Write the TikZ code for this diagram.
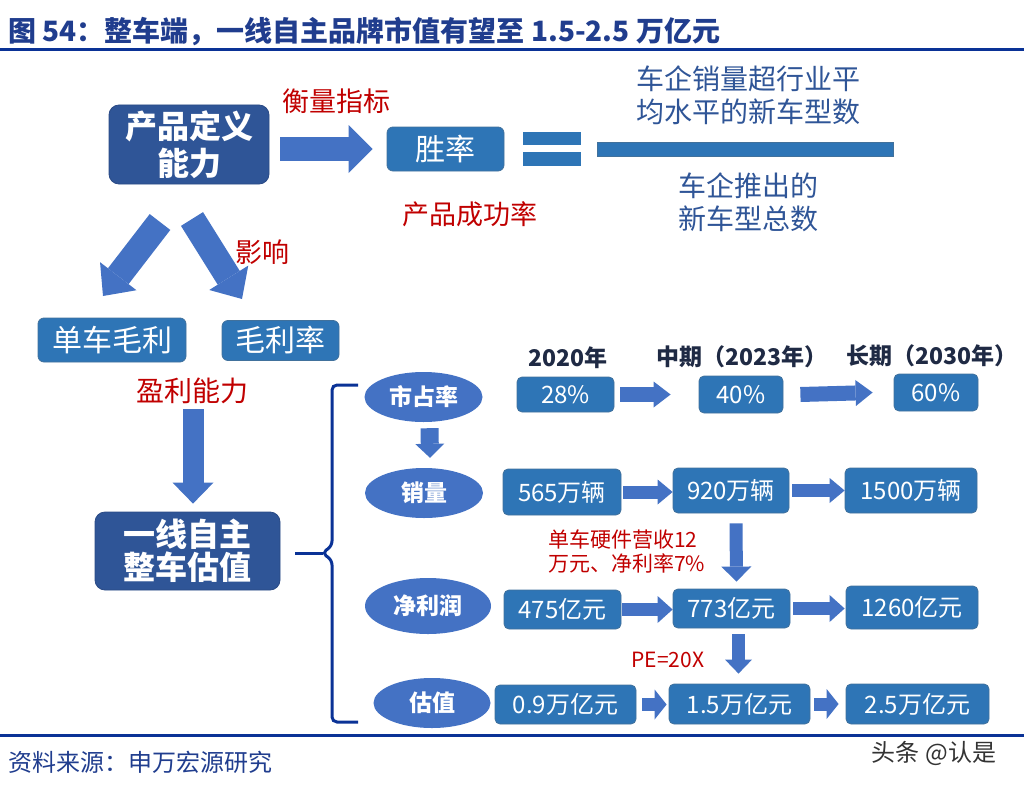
\documentclass[tikz,border=0pt]{standalone}
\usepackage{fontspec}
\setmainfont{Noto Sans CJK SC}
\usetikzlibrary{shapes.geometric,arrows.meta}

\definecolor{titleblue}{HTML}{203D8E}
\definecolor{rulecol}{HTML}{0A3296}
\definecolor{darkfill}{HTML}{2F5597}
\definecolor{darkedge}{HTML}{2A4A85}
\definecolor{boxfill}{HTML}{2E75B6}
\definecolor{boxedge}{HTML}{41719C}
\definecolor{ovalfill}{HTML}{4472C4}
\definecolor{arrowfill}{HTML}{4472C4}
\definecolor{labelred}{HTML}{C00000}
\definecolor{yeardark}{HTML}{1F2A44}
\definecolor{fractext}{HTML}{2F5597}
\definecolor{markgray}{HTML}{333333}

\newcommand\fsz[2]{\fontsize{#1}{#2}\selectfont}

\tikzset{
    bigbox/.style={rectangle, rounded corners=10pt, fill=darkfill, draw=darkedge, line width=0.8pt,
        text=white, font=\bfseries\fsz{32}{37}, align=center, inner sep=0pt},
    smallbox/.style={rectangle, rounded corners=6pt, fill=boxfill, draw=boxedge, line width=0.8pt,
        text=white, font=\fsz{30}{34}, inner sep=0pt},
    valbox/.style={smallbox, rounded corners=5pt, font=\fsz{24}{28}},
    oval/.style={ellipse, fill=ovalfill, text=white, font=\bfseries\fsz{23}{26}, inner sep=0pt},
    redlabel/.style={text=labelred, font=\fsz{27}{30}, inner sep=0pt},
    yearlabel/.style={text=yeardark, font=\bfseries\fsz{23}{26}, inner sep=0pt},
    fracline/.style={text=fractext, font=\fsz{28}{33}, align=center, inner sep=0pt},
    fatarrow/.style n args={3}{draw=arrowfill, line width=#1,
        -{Triangle[length=#3, width=#2, line width=0pt]}},
}

\begin{document}
\begin{tikzpicture}[x=1pt, y=-1pt]
    \useasboundingbox (0,0) rectangle (1024,789);

    % title and rules
    \node[anchor=west, text=titleblue, font=\bfseries\fsz{28}{32}, inner sep=0pt] (title) at (8,32)
        {图 54：整车端，一线自主品牌市值有望至 1.5-2.5 万亿元};
    \draw[rulecol, line width=3pt] (0,50) -- (1024,50);
    \draw[rulecol, line width=3pt] (0,735.5) -- (1024,735.5);

    % top part
    \node[bigbox, minimum width=160, minimum height=79] (pd) at (189,144.5) {产品定义\\能力};
    \node[smallbox, minimum width=117, minimum height=44] (sl) at (445.5,149) {胜率};
    \node[redlabel] (hl) at (336,101) {衡量指标};
    \node[redlabel] (cg) at (470,214) {产品成功率};
    \fill[boxfill] (523,132) rectangle (581,145);
    \fill[boxfill] (523,152) rectangle (581,166);
    \filldraw[fill=boxfill, draw=boxedge, line width=0.6pt] (597,142) rectangle (893,156);
    \node[fracline] (num) at (748.5,95.5) {车企销量超行业平\\均水平的新车型数};
    \node[fracline] (den) at (748.5,202.5) {车企推出的\\新车型总数};
    \draw[fatarrow={24pt}{48pt}{24pt}] ([xshift=11]pd.east |- sl.west) -- ([xshift=-14]sl.west);

    % influence
    \coordinate (dl0) at (160,222);
    \coordinate (dl1) at (103,296);
    \coordinate (dr0) at (192,219);
    \coordinate (dr1) at (242,299);
    \draw[fatarrow={26pt}{46pt}{25pt}] (dl0) -- (dl1);
    \draw[fatarrow={26pt}{46pt}{25pt}] (dr0) -- (dr1);
    \node[redlabel] (yx) at (262,252) {影响};
    \node[smallbox, minimum width=148, minimum height=44] (dm) at (112,340) {单车毛利};
    \node[smallbox, minimum width=117, minimum height=40] (mr) at (280.5,340.5) {毛利率};
    \node[redlabel, font=\fsz{28}{31}] (yl) at (192,391) {盈利能力};
    \node[bigbox, minimum width=185, minimum height=78, font=\bfseries\fsz{32}{33}] (gz) at (187.5,551)
        {一线自主\\整车估值};
    \draw[fatarrow={21pt}{41pt}{21pt}] ([xshift=1,yshift=-5]yl.south) -- ([xshift=5.5,yshift=8]gz.north);

    % brace
    \draw[rulecol, line width=3pt, rounded corners=5pt]
        (358,385) -- (332,385) -- (332,546) -- (322,553) -- (332,560) -- (332,722) -- (358,722);
    \draw[rulecol, line width=3pt] (323,553) -- (295,553);

    % rows
    \node[oval, minimum width=118, minimum height=50] (e1) at (423.5,397) {市占率};
    \node[oval, minimum width=118, minimum height=50] (e2) at (424,493) {销量};
    \node[oval, minimum width=126, minimum height=56] (e3) at (428,606) {净利润};
    \node[oval, minimum width=117, minimum height=50] (e4) at (432,703) {估值};

    \node[yearlabel] (y1) at (568,358) {2020年};
    \node[yearlabel] (y2) at (742,357) {中期（2023年）};
    \node[yearlabel] (y3) at (932,356) {长期（2030年）};

    \node[valbox, minimum width=97, minimum height=35] (a1) at (565.5,394.5) {28\%};
    \node[valbox, minimum width=84, minimum height=37] (a2) at (741,394.5) {40\%};
    \node[valbox, minimum width=84, minimum height=37] (a3) at (936,392.5) {60\%};

    \node[valbox, minimum width=118, minimum height=46] (b1) at (562,492) {565万辆};
    \node[valbox, minimum width=116, minimum height=45] (b2) at (731,490.5) {920万辆};
    \node[valbox, minimum width=132, minimum height=45] (b3) at (911,490.5) {1500万辆};

    \node[valbox, minimum width=117, minimum height=39] (c1) at (562.5,609.5) {475亿元};
    \node[valbox, minimum width=117, minimum height=39] (c2) at (731.5,608.5) {773亿元};
    \node[valbox, minimum width=132, minimum height=43] (c3) at (912,607.5) {1260亿元};

    \node[valbox, minimum width=141, minimum height=39] (d1) at (565.5,704.5) {0.9万亿元};
    \node[valbox, minimum width=141, minimum height=40] (d2) at (739.5,704) {1.5万亿元};
    \node[valbox, minimum width=143, minimum height=40] (d3) at (917.5,704) {2.5万亿元};

    \node[redlabel, font=\fsz{21}{24}, anchor=west, align=left] (hw) at (548,551)
        {单车硬件营收12\\万元、净利率7\%};
    \node[redlabel, font=\fsz{21}{24}] (pe) at (668,660) {PE=20X};

    \draw[fatarrow={18pt}{29pt}{14pt}] ([xshift=6,yshift=-6]e1.south) -- ([xshift=6,yshift=10]e2.north);
    \draw[fatarrow={15pt}{26pt}{17pt}] ([xshift=6]a1.east) -- ([xshift=-28]a2.west);
    \draw[fatarrow={15pt}{26pt}{17pt}] ([xshift=17]a2.east) -- ([xshift=-21]a3.west);
    \draw[fatarrow={13pt}{25pt}{15pt}] ([xshift=2]b1.east) -- (b2.west |- b1.east);
    \draw[fatarrow={13pt}{25pt}{15pt}] ([xshift=3]b2.east) -- (b3.west |- b2.east);
    \draw[fatarrow={13pt}{30pt}{15pt}] ([xshift=5,yshift=-10]b2.south) -- ([xshift=5,yshift=7]c2.north);
    \draw[fatarrow={13pt}{27pt}{15pt}] ([xshift=1]c1.east) -- (c2.west |- c1.east);
    \draw[fatarrow={13pt}{27pt}{15pt}] ([xshift=3]c2.east) -- ([xshift=-1]c3.west |- c2.east);
    \draw[fatarrow={13pt}{27pt}{14pt}] ([xshift=7,yshift=-6]c2.south) -- ([xshift=-1,yshift=10]d2.north);
    \draw[fatarrow={13pt}{30pt}{12pt}] ([xshift=6]d1.east) -- ([xshift=-2]d2.west |- d1.east);
    \draw[fatarrow={13pt}{30pt}{12pt}] ([xshift=4]d2.east) -- ([xshift=-7]d3.west);

    % footer
    \node[anchor=west, text=titleblue, font=\fsz{24}{28}, inner sep=0pt] (src) at (8,762)
        {资料来源：申万宏源研究};
    \node[text=markgray, font=\fsz{24}{28}, inner sep=0pt] (wm) at (934,753) {头条 @认是};
\end{tikzpicture}
\end{document}
